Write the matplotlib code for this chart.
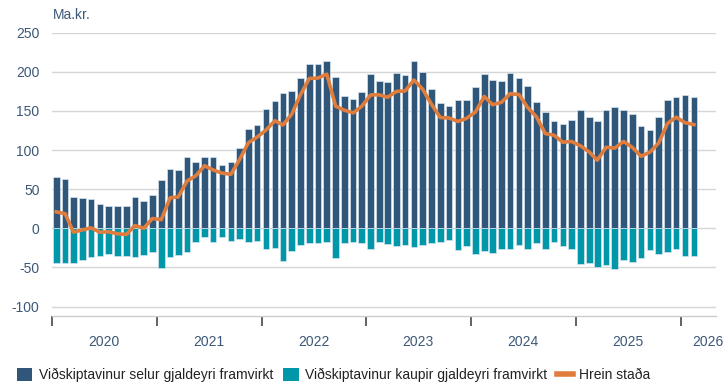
import matplotlib
matplotlib.use("Agg")
import matplotlib.pyplot as plt
import matplotlib.dates as mdates
from matplotlib.patches import Patch
from matplotlib.lines import Line2D
import numpy as np
import pandas as pd

plt.rcParams['font.family'] = ['Liberation Sans', 'DejaVu Sans']

# Mánaðarleg staða framvirkra samninga, ma.kr. (jan 2020 - feb 2026)
months = pd.date_range('2020-01-01', periods=74, freq='MS')

selur = [
    65, 63, 40, 39, 37, 31, 29, 29, 28, 40, 34.5, 43,          # 2020
    61.5, 75.5, 74.5, 90.5, 85, 91.5, 91.5, 81.5, 85, 102, 127.5, 132.5,  # 2021
    152.5, 163, 173.5, 175.5, 191.5, 210, 210.5, 214, 194, 169.5, 165.5, 174.5,  # 2022
    197.5, 188, 187.5, 198, 196.5, 213.5, 199.5, 177.5, 159.5, 156.5, 164, 163.5,  # 2023
    181, 197.5, 189, 188, 199, 192.5, 181.5, 161.5, 148, 136.5, 133, 138,  # 2024
    151, 142, 137, 151, 155, 151, 146.5, 130.5, 125, 142, 164, 168,  # 2025
    170, 168,                                                  # 2026
]
kaupir = [
    -44, -44.5, -45, -41, -36.5, -36, -33.5, -36, -36, -36.5, -34.5, -30.5,
    -50.5, -36.5, -34.5, -30, -18, -11.5, -17, -11, -16, -14, -18, -16,
    -27, -25.5, -41.5, -29.5, -21, -18.5, -18.5, -17, -38, -18.5, -18, -18.5,
    -27, -17.5, -20, -23, -21, -24, -21.5, -19, -18, -15.5, -27.5, -23,
    -32.5, -29, -31, -27, -27, -21.5, -27, -19, -27, -17.5, -23, -27,
    -45.5, -44.5, -50, -47.5, -52.5, -40, -43, -38.5, -27.5, -33, -30, -26,
    -35, -35.5,
]
hrein = np.array(selur) + np.array(kaupir)

legend_labels = [
    'Viðskiptavinur selur gjaldeyri framvirkt',
    'Viðskiptavinur kaupir gjaldeyri framvirkt',
    'Hrein staða',
]
year_labels = ['2020', '2021', '2022', '2023', '2024', '2025', '2026']

c_selur = '#30567a'
c_kaupir = '#0098a9'
c_hrein = '#e07d3c'
c_text = '#3c5878'
fs = 10

fig = plt.figure(figsize=(7.27, 3.84), dpi=100)
ax = fig.add_axes([52 / 727, 1 - 315.5 / 384, 664 / 727, (315.5 - 32.7) / 384])

x = months + pd.Timedelta(days=15)
ax.bar(x, selur, width=23, color=c_selur, edgecolor='#d6e4ee', linewidth=0.5, zorder=2)
ax.bar(x, kaupir, width=23, color=c_kaupir, edgecolor='#d6e4ee', linewidth=0.5, zorder=2)
ax.plot(x, hrein, color=c_hrein, lw=2.6, solid_joinstyle='round', zorder=3)

ax.set_ylim(-111.5, 250)
ax.set_xlim(pd.Timestamp('2020-01-01'), pd.Timestamp('2026-05-04'))

yt = np.arange(-100, 251, 50)
ax.set_yticks(yt)
ax.set_yticklabels([str(v) for v in yt])
ax.grid(axis='y', color='#d6d6d6', lw=1, zorder=0)
ax.tick_params(axis='y', length=0, pad=9, labelsize=fs, labelcolor=c_text)

# árabil: merki við áramót, ártal á miðju ári (síðasta ártalið fært inn að brún)
ax.set_xticks(pd.date_range('2020-01-01', '2026-01-01', freq='YS'))
ax.set_xticklabels([])
ax.tick_params(axis='x', which='major', length=7, width=1.3, color='#555555', direction='out')
minor_pos = list(pd.date_range('2020-07-01', '2025-07-01', freq='12MS')) + [pd.Timestamp('2026-04-06')]
ax.set_xticks(minor_pos, minor=True)
ax.set_xticklabels(year_labels, minor=True)
ax.tick_params(axis='x', which='minor', length=0, pad=14, labelsize=fs, labelcolor=c_text)

for s in ['top', 'right', 'left']:
    ax.spines[s].set_visible(False)
ax.spines['bottom'].set_color('#cccccc')
ax.spines['bottom'].set_linewidth(1)

fig.text(53 / 727, 1 - 15 / 384, 'Ma.kr.', color=c_text, fontsize=fs, va='center', ha='left')

handles = [
    Patch(facecolor=c_selur, edgecolor='none'),
    Patch(facecolor=c_kaupir, edgecolor='none'),
    Line2D([0], [0], color=c_hrein, lw=4),
]
fig.legend(handles, legend_labels, loc='center left', bbox_to_anchor=(4 / 727, 1 - 375 / 384),
           ncol=3, frameon=False, fontsize=fs, labelcolor='#222222',
           handlelength=1.15, handleheight=1.15, handletextpad=0.45, columnspacing=0.7)

fig.savefig('out.png', dpi=100)
